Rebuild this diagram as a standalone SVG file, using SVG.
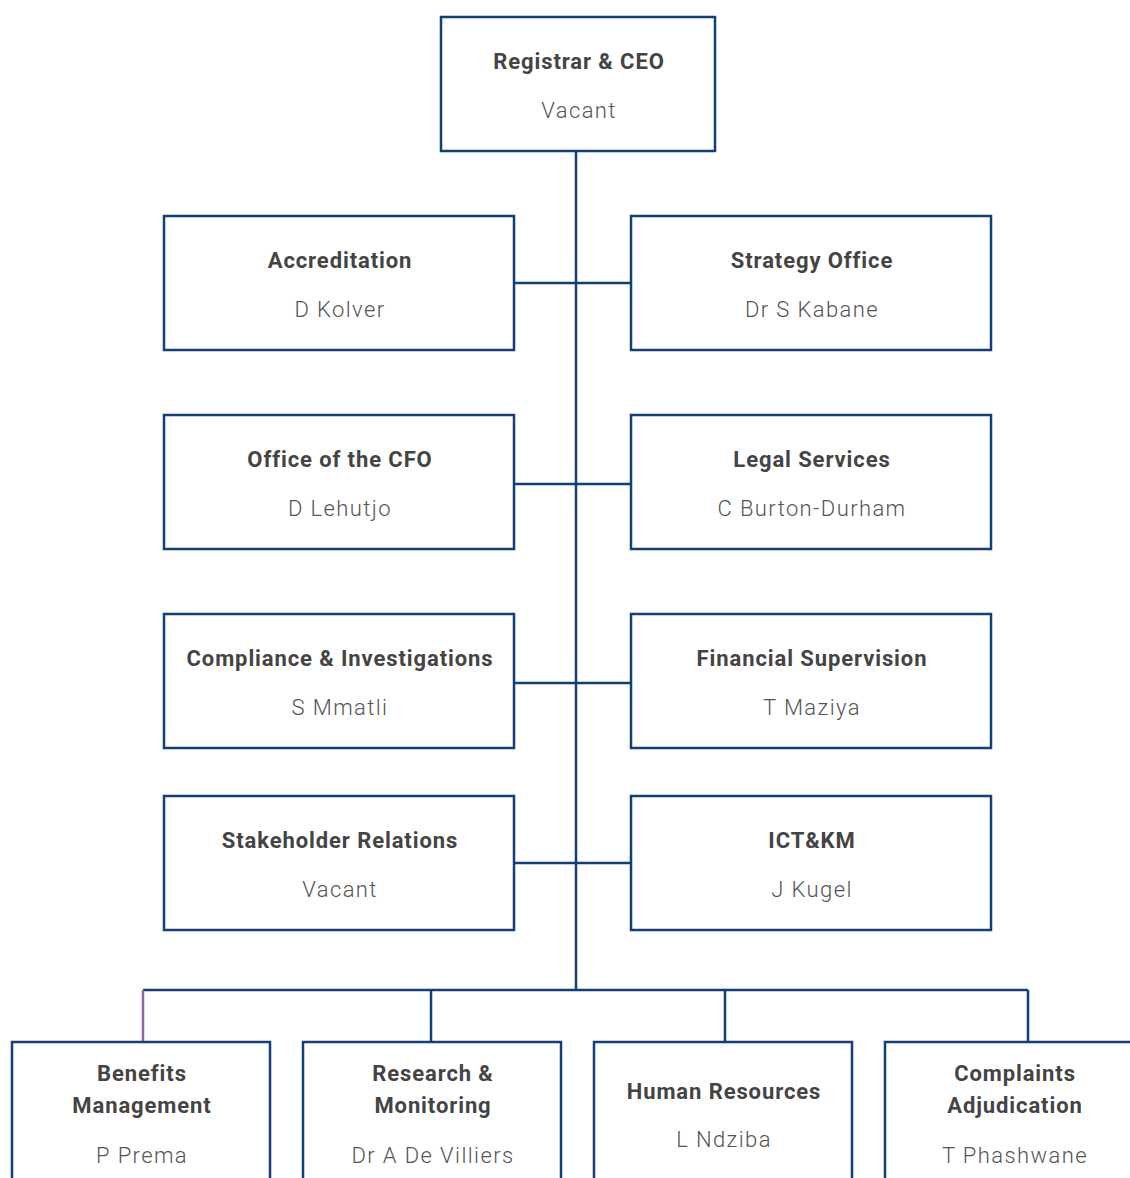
<svg xmlns="http://www.w3.org/2000/svg" width="1130" height="1178" viewBox="0 0 1130 1178">
<style>
.box{fill:#fff;stroke:#123f7c;stroke-width:2.5}
.ln{fill:none;stroke:#123f7c;stroke-width:2.5}
.t{font-family:Roboto,"Liberation Sans",sans-serif;font-weight:700;font-size:22px;letter-spacing:0.9px;fill:#444;text-anchor:middle}
.n{font-family:Roboto,"Liberation Sans",sans-serif;font-weight:300;font-size:22px;letter-spacing:1.4px;fill:#555;text-anchor:middle}
</style>
<rect width="1130" height="1178" fill="#fff"/>
<g id="connectors">
<path class="ln" d="M576 151V990"/>
<path class="ln" d="M514 283H631M514 484H631M514 683H631M514 863H631"/>
<path class="ln" d="M143 990H1028M431 990V1042M725 990V1042M1028 990V1042"/>
<path fill="none" stroke="#8a6aa8" stroke-width="2.5" d="M143 990V1042"/>
</g>
<g id="ceo"><rect class="box" x="441" y="17" width="274" height="134"/><text class="t" x="579" y="69">Registrar &amp; CEO</text><text class="n" x="579" y="118">Vacant</text></g>
<g id="accreditation"><rect class="box" x="164" y="216" width="350" height="134"/><text class="t" x="340" y="268">Accreditation</text><text class="n" x="340" y="317">D Kolver</text></g>
<g id="strategy"><rect class="box" x="631" y="216" width="360" height="134"/><text class="t" x="812" y="268">Strategy Office</text><text class="n" x="812" y="317">Dr S Kabane</text></g>
<g id="cfo"><rect class="box" x="164" y="415" width="350" height="134"/><text class="t" x="340" y="467">Office of the CFO</text><text class="n" x="340" y="516">D Lehutjo</text></g>
<g id="legal"><rect class="box" x="631" y="415" width="360" height="134"/><text class="t" x="812" y="467">Legal Services</text><text class="n" x="812" y="516">C Burton-Durham</text></g>
<g id="compliance"><rect class="box" x="164" y="614" width="350" height="134"/><text class="t" x="340" y="666">Compliance &amp; Investigations</text><text class="n" x="340" y="715">S Mmatli</text></g>
<g id="finsup"><rect class="box" x="631" y="614" width="360" height="134"/><text class="t" x="812" y="666">Financial Supervision</text><text class="n" x="812" y="715">T Maziya</text></g>
<g id="stakeholder"><rect class="box" x="164" y="796" width="350" height="134"/><text class="t" x="340" y="848">Stakeholder Relations</text><text class="n" x="340" y="897">Vacant</text></g>
<g id="ictkm"><rect class="box" x="631" y="796" width="360" height="134"/><text class="t" x="812" y="848">ICT&amp;KM</text><text class="n" x="812" y="897">J Kugel</text></g>
<g id="benefits"><rect class="box" x="12" y="1042" width="258" height="160"/><text class="t" x="142" y="1081">Benefits</text><text class="t" x="142" y="1113">Management</text><text class="n" x="142" y="1163">P Prema</text></g>
<g id="research"><rect class="box" x="303" y="1042" width="258" height="160"/><text class="t" x="433" y="1081">Research &amp;</text><text class="t" x="433" y="1113">Monitoring</text><text class="n" x="433" y="1163">Dr A De Villiers</text></g>
<g id="hr"><rect class="box" x="594" y="1042" width="258" height="160"/><text class="t" x="724" y="1099">Human Resources</text><text class="n" x="724" y="1147">L Ndziba</text></g>
<g id="complaints"><rect class="box" x="885" y="1042" width="258" height="160"/><text class="t" x="1015" y="1081">Complaints</text><text class="t" x="1015" y="1113">Adjudication</text><text class="n" x="1015" y="1163">T Phashwane</text></g>
</svg>
